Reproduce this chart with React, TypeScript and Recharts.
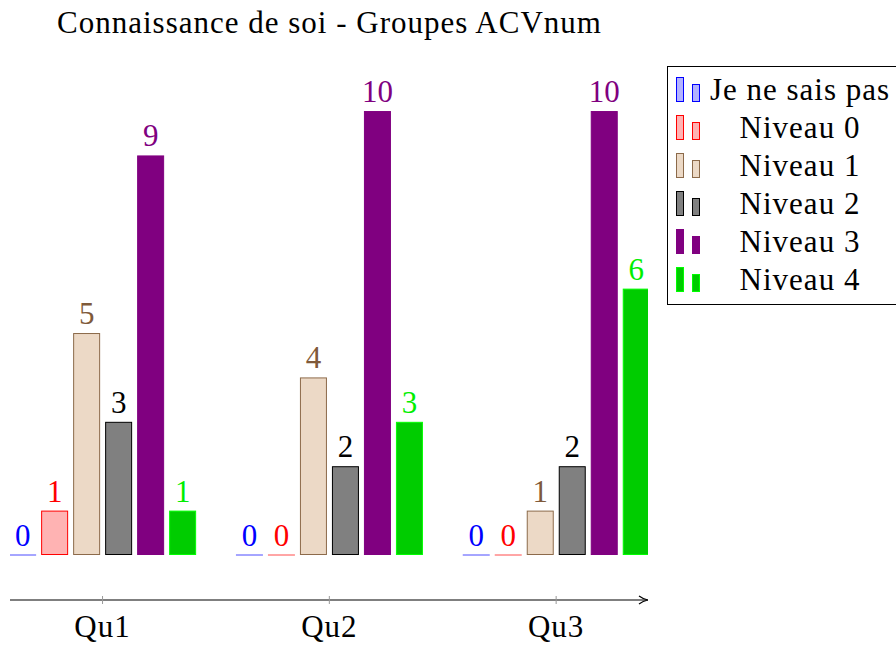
import { Bar, BarChart, LabelList, Legend, XAxis, YAxis } from "recharts";

const categories = ["Qu1", "Qu2", "Qu3"];
const jeNeSaisPas = [0, 0, 0];
const niveau0 = [1, 0, 0];
const niveau1 = [5, 4, 1];
const niveau2 = [3, 2, 2];
const niveau3 = [9, 10, 10];
const niveau4 = [1, 3, 6];

const SERIES = [
  { key: "nsp", name: "Je ne sais pas", values: jeNeSaisPas, fill: "#b3b3ff", stroke: "#0000ff", label: "#0000ff" },
  { key: "n0", name: "Niveau 0", values: niveau0, fill: "#ffb3b3", stroke: "#ff0000", label: "#ff0000" },
  { key: "n1", name: "Niveau 1", values: niveau1, fill: "#ecd9c6", stroke: "#8c6a4a", label: "#7f5a3a" },
  { key: "n2", name: "Niveau 2", values: niveau2, fill: "#808080", stroke: "#000000", label: "#000000" },
  { key: "n3", name: "Niveau 3", values: niveau3, fill: "#800080", stroke: "#800080", label: "#800080" },
  { key: "n4", name: "Niveau 4", values: niveau4, fill: "#00cc00", stroke: "#00ff00", label: "#00ee00" },
];

const data = categories.map((c, i) => {
  const row: Record<string, number | string> = { x: i + 1, name: c };
  SERIES.forEach((s) => (row[s.key] = s.values[i]));
  return row;
});

const FONT = "'Liberation Serif', 'Times New Roman', serif";
const FS = 31;

function BarShape(props: any) {
  const { x, y, width, height, fill, stroke } = props;
  if (!height || Math.abs(height) < 0.5) {
    return <line x1={x} x2={x + width} y1={y} y2={y} stroke={stroke} strokeWidth={1} strokeOpacity={0.7} />;
  }
  return (
    <rect x={x + 0.5} y={y + 0.5} width={width - 1} height={height - 1} fill={fill} stroke={stroke} strokeWidth={1} />
  );
}

function QuTick(props: any) {
  const { x, y, payload } = props;
  return (
    <g>
      <line x1={x} x2={x} y1={y - 4} y2={y + 4} stroke="#999" strokeWidth={1} />
      <text x={x} y={y + 37} textAnchor="middle" fontSize={FS} letterSpacing={1} fontFamily={FONT} fill="#000">
        {categories[payload.value - 1]}
      </text>
    </g>
  );
}

function LegendBox() {
  return (
    <div
      style={{
        border: "1px solid #000",
        width: 240,
        padding: "4px 0 5px 0",
        background: "#fff",
        fontFamily: FONT,
        fontSize: FS,
        letterSpacing: 1,
        boxSizing: "border-box",
        color: "#000",
      }}
    >
      {SERIES.map((s) => (
        <div key={s.key} style={{ display: "flex", alignItems: "center", height: 38 }}>
          <svg width={36} height={38} style={{ flexShrink: 0 }}>
            <rect x={8.5} y={6.5} width={7} height={24} fill={s.fill} stroke={s.stroke} />
            <rect x={24.5} y={13.5} width={7} height={17} fill={s.fill} stroke={s.stroke} />
          </svg>
          <span style={{ width: 192, textAlign: "center", lineHeight: "38px", whiteSpace: "nowrap" }}>{s.name}</span>
        </div>
      ))}
    </div>
  );
}

export default function App() {
  return (
    <div style={{ position: "absolute", left: 0, top: 0, width: 896, height: 646, overflow: "hidden", background: "#fff" }}>
      <svg width={0} height={0} style={{ position: "absolute" }}>
        <defs>
          <marker id="axisArrow" viewBox="0 0 10 10" refX={10} refY={5} markerWidth={10} markerHeight={10} markerUnits="userSpaceOnUse" orient="auto">
            <path d="M1,1 Q5,4 10,5 Q5,6 1,9" fill="none" stroke="#000" strokeWidth={1.2} />
          </marker>
        </defs>
      </svg>
      <BarChart
        width={896}
        height={646}
        data={data}
        barSize={27}
        barGap={5}
        margin={{ top: 44, right: 248, bottom: 16, left: 10 }}
      >
        <XAxis
          dataKey="x"
          type="number"
          domain={[0.592, 3.405]}
          allowDataOverflow
          ticks={[1, 2, 3]}
          height={30}
          tickSize={0}
          tickMargin={0}
          tickLine={false}
          axisLine={{ stroke: "#000", strokeWidth: 1.2, markerEnd: "url(#axisArrow)" }}
          tick={<QuTick />}
        />
        <YAxis hide type="number" domain={[-1.0135, 11.51]} allowDataOverflow />
        <Legend
          layout="horizontal"
          align="center"
          verticalAlign="middle"
          content={() => <LegendBox />}
          wrapperStyle={{ position: "absolute", left: 667, top: 66, width: 240 }}
        />
        {SERIES.map((s) => (
          <Bar
            key={s.key}
            dataKey={s.key}
            name={s.name}
            fill={s.fill}
            stroke={s.stroke}
            shape={<BarShape />}
            isAnimationActive={false}
          >
            <LabelList dataKey={s.key} position="top" offset={9} fill={s.label} fontSize={FS} fontFamily={FONT} />
          </Bar>
        ))}
      </BarChart>
      <svg width={896} height={60} style={{ position: "absolute", left: 0, top: 0, pointerEvents: "none" }}>
        <text x={329.5} y={33} textAnchor="middle" fontSize={FS} letterSpacing={1} fontFamily={FONT} fill="#000">
          Connaissance de soi - Groupes ACVnum
        </text>
      </svg>
    </div>
  );
}
